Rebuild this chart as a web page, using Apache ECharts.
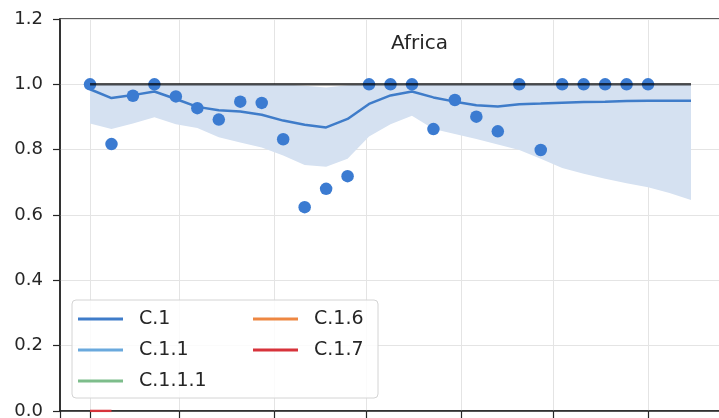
<!DOCTYPE html>
<html>
<head>
<meta charset="utf-8">
<script src="https://cdn.jsdelivr.net/npm/echarts@6/dist/echarts.min.js"></script>
<style>
  html, body { margin: 0; padding: 0; background: #ffffff; }
  #chart { width: 719px; height: 418px; }
</style>
</head>
<body>
<div id="chart"></div>
<script>
// Weekly reporting dates (UTC)
const weeks = [
  '2020-02-01', '2020-02-08', '2020-02-15', '2020-02-22', '2020-02-29',
  '2020-03-07', '2020-03-14', '2020-03-21', '2020-03-28',
  '2020-04-04', '2020-04-11', '2020-04-18', '2020-04-25',
  '2020-05-02', '2020-05-09', '2020-05-16', '2020-05-23', '2020-05-30',
  '2020-06-06', '2020-06-13', '2020-06-20', '2020-06-27',
  '2020-07-04', '2020-07-11', '2020-07-18', '2020-07-25',
  '2020-08-01', '2020-08-08', '2020-08-15'
];

// Observed weekly values (one per week up to 2020-08-01)
const observed = [
  1.0, 0.817, 0.965, 1.0, 0.963, 0.927, 0.892, 0.947, 0.943, 0.832,
  0.624, 0.680, 0.719, 1.0, 1.0, 1.0, 0.863, 0.952, 0.901, 0.856,
  1.0, 0.799, 1.0, 1.0, 1.0, 1.0, 1.0
];

// Smoothed estimate (C.1) and its uncertainty band
const c1Mean = [
  0.985, 0.958, 0.967, 0.978, 0.955, 0.931, 0.921, 0.917, 0.907, 0.889,
  0.876, 0.868, 0.894, 0.940, 0.966, 0.978, 0.960, 0.947, 0.936, 0.932,
  0.939, 0.941, 0.944, 0.946, 0.947, 0.949, 0.950, 0.950, 0.950
];
const bandLower = [
  0.880, 0.863, 0.880, 0.899, 0.878, 0.866, 0.838, 0.822, 0.807, 0.782,
  0.753, 0.748, 0.772, 0.840, 0.878, 0.904, 0.863, 0.848, 0.833, 0.816,
  0.799, 0.772, 0.744, 0.726, 0.711, 0.697, 0.685, 0.667, 0.646
];
const bandUpper = [
  1.0, 1.0, 1.0, 1.0, 1.0, 1.0, 1.0, 1.0, 1.0, 1.0,
  0.996, 0.990, 0.997, 1.0, 1.0, 1.0, 1.0, 1.0, 1.0, 1.0,
  1.0, 1.0, 1.0, 1.0, 1.0, 1.0, 1.0, 1.0, 1.0
];

// Reference level
const refLevel = 1.0;

// Other components
const c11 = [];
const c111 = [];
const c16 = [];
const c17 = [0, 0];

const yTicks = [0, 0.2, 0.4, 0.6, 0.8, 1.0, 1.2];

const legendNames = ['C.1', 'C.1.1', 'C.1.1.1', 'C.1.6', 'C.1.7'];

const FONT = 'DejaVu Sans';
const t = s => Date.parse(s + 'T00:00:00Z');
const pair = (vals) => vals.map((v, i) => [t(weeks[i]), v]);

const bandWidth = bandUpper.map((u, i) => u - bandLower[i]);

const chart = echarts.init(document.getElementById('chart'), null, { renderer: 'canvas' });

chart.setOption({
  animation: false,
  useUTC: true,
  backgroundColor: '#ffffff',
  title: {
    text: 'Africa',
    left: 391,
    top: 34,
    padding: 0,
    textStyle: { fontFamily: FONT, fontSize: 20, fontWeight: 'normal', color: '#262626' }
  },
  grid: {
    left: 60, width: 661, top: 19, bottom: 7,
    show: true, borderColor: '#262626', borderWidth: 1.5,
    containLabel: false,
    outerBoundsMode: 'none'
  },
  legend: {
    orient: 'vertical',
    left: 72, top: 300,
    height: 82,
    padding: [9, 4, 7, 6],
    itemGap: 11,
    itemWidth: 45,
    itemHeight: 3,
    icon: 'rect',
    selectedMode: false,
    backgroundColor: 'rgba(255,255,255,0.85)',
    borderColor: '#d4d4d4',
    borderWidth: 1,
    borderRadius: 4,
    textStyle: { fontFamily: FONT, fontSize: 19, color: '#262626', lineHeight: 20, padding: [0, 0, 0, 11] },
    data: legendNames.map((n, i) => ({ name: n, textStyle: { width: i < 3 ? 103 : 60 } }))
  },
  xAxis: {
    type: 'time',
    min: Date.UTC(2020, 0, 22, 5),
    max: Date.UTC(2020, 7, 24, 19),
    splitNumber: 7,
    minInterval: 28 * 86400000,
    maxInterval: 31 * 86400000,
    axisLine: { show: true, lineStyle: { color: '#262626', width: 1.5 } },
    axisTick: { show: true, length: 7, inside: false, lineStyle: { color: '#262626', width: 1.2 } },
    axisLabel: { show: false },
    splitLine: { show: true, showMinLine: false, showMaxLine: false, lineStyle: { color: '#e4e4e4', width: 1 } }
  },
  yAxis: {
    type: 'value',
    min: 0, max: 1.2, interval: 0.2,
    axisLine: { show: true, lineStyle: { color: '#262626', width: 1.5 } },
    axisTick: { show: true, length: 7, inside: false, lineStyle: { color: '#262626', width: 1.2 } },
    axisLabel: {
      margin: 17,
      fontFamily: FONT, fontSize: 18, color: '#262626',
      formatter: v => (yTicks.some(x => Math.abs(x - v) < 1e-9) ? v.toFixed(1) : '')
    },
    splitLine: { show: true, lineStyle: { color: '#e4e4e4', width: 1 } }
  },
  series: [
    {
      name: 'band-lower', type: 'line', stack: 'band',
      data: pair(bandLower), symbol: 'none',
      lineStyle: { opacity: 0 }, silent: true, z: 1
    },
    {
      name: 'band', type: 'line', stack: 'band',
      data: pair(bandWidth), symbol: 'none',
      lineStyle: { opacity: 0 },
      areaStyle: { color: '#d5e1f1', opacity: 1 },
      silent: true, z: 1
    },
    {
      name: 'C.1', type: 'line', data: pair(c1Mean),
      symbol: 'none', color: '#3f7cc9',
      lineStyle: { color: '#3f7cc9', width: 2.5 }, z: 3
    },
    {
      name: 'observed', type: 'scatter', data: pair(observed),
      symbol: 'circle', symbolSize: 12.5,
      itemStyle: { color: '#3b7bd1', opacity: 1 }, z: 4
    },
    {
      name: 'reference', type: 'line',
      data: [[t(weeks[0]), refLevel], [t(weeks[weeks.length - 1]), refLevel]],
      symbol: 'none',
      lineStyle: { color: 'rgba(0,0,0,0.68)', width: 2.5 }, z: 5
    },
    { name: 'C.1.1', type: 'line', data: pair(c11), symbol: 'none', color: '#6aa9dd', lineStyle: { width: 2.5 }, z: 6 },
    { name: 'C.1.1.1', type: 'line', data: pair(c111), symbol: 'none', color: '#7dbd8b', lineStyle: { width: 2.5 }, z: 6 },
    { name: 'C.1.6', type: 'line', data: pair(c16), symbol: 'none', color: '#ee8742', lineStyle: { width: 2.5 }, z: 6 },
    { name: 'C.1.7', type: 'line', data: pair(c17), symbol: 'none', color: '#d7333b', lineStyle: { width: 2.5 }, z: 6 }
  ]
});
</script>
</body>
</html>
